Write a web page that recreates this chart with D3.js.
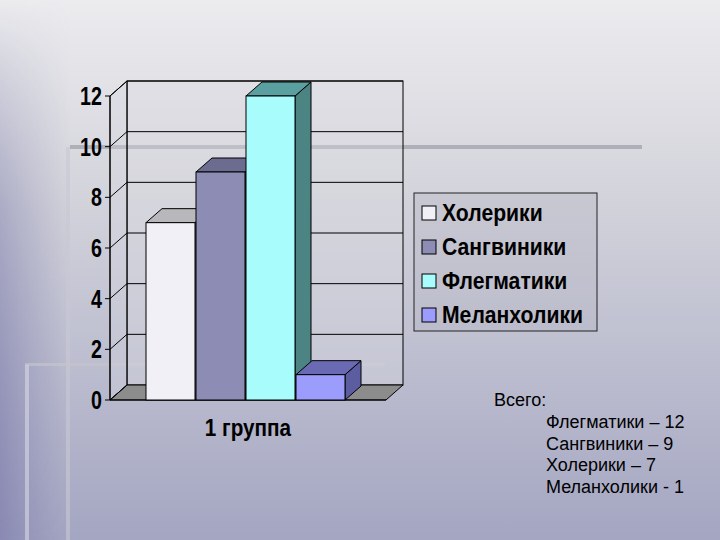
<!DOCTYPE html>
<html><head><meta charset="utf-8">
<script src="https://cdn.jsdelivr.net/npm/d3@7"></script>
<style>body{margin:0}svg{display:block}</style></head>
<body><svg id="c" width="720" height="540"></svg>
<script>
const categories = ["Холерики","Сангвиники","Флегматики","Меланхолики"];
const values = [7, 9, 12, 1];
const colors = ["#f0f0f6","#8c8cb4","#a8fcfc","#9c9cfc"];
const sideColors = ["#a8a8b0","#64648a","#4c8484","#5c5ca0"];
const topColors = ["#b8b8bc","#6c6c90","#5aa0a0","#6a6ab4"];
const ticks = [0,2,4,6,8,10,12];
const groupLabel = "1 группа";
const totals = ["Флегматики – 12","Сангвиники – 9","Холерики – 7","Меланхолики - 1"];

const svg = d3.select("#c");
const defs = svg.append("defs");
const g1 = defs.append("linearGradient").attr("id","bg").attr("x1",0).attr("y1",0).attr("x2",0).attr("y2",1);
g1.append("stop").attr("offset","0").attr("stop-color","#ececef");
g1.append("stop").attr("offset","0.35").attr("stop-color","#d4d4dc");
g1.append("stop").attr("offset","1").attr("stop-color","#a4a6c2");
const g2 = defs.append("linearGradient").attr("id","lg").attr("x1",0).attr("y1",0).attr("x2",1).attr("y2",0);
g2.append("stop").attr("offset","0").attr("stop-color","#8484b0").attr("stop-opacity",0.85);
g2.append("stop").attr("offset","1").attr("stop-color","#8c8cb4").attr("stop-opacity",0);
const g3 = defs.append("linearGradient").attr("id","lm").attr("x1",0).attr("y1",0).attr("x2",0).attr("y2",1);
g3.append("stop").attr("offset","0").attr("stop-color","#fff").attr("stop-opacity",0);
g3.append("stop").attr("offset","0.4").attr("stop-color","#fff").attr("stop-opacity",0.6);
g3.append("stop").attr("offset","1").attr("stop-color","#fff").attr("stop-opacity",1);
const mask = defs.append("mask").attr("id","mk");
mask.append("rect").attr("width",720).attr("height",540).attr("fill","url(#lm)");
svg.append("rect").attr("width",720).attr("height",540).attr("fill","url(#bg)");
svg.append("rect").attr("x",0).attr("y",0).attr("width",70).attr("height",540).attr("fill","url(#lg)").attr("mask","url(#mk)");
// decorative lines
svg.append("rect").attr("x",70).attr("y",145).attr("width",572).attr("height",4).attr("fill","#b0b0b8");
svg.append("rect").attr("x",66).attr("y",147).attr("width",4).attr("height",393).attr("fill","#c8c8d4").attr("opacity",0.6);
svg.append("rect").attr("x",25).attr("y",363).attr("width",360).attr("height",3).attr("fill","#c4c4cc").attr("opacity",0.7);
svg.append("rect").attr("x",25).attr("y",365).attr("width",4).attr("height",175).attr("fill","#d8d8e4").attr("opacity",0.6);

const y = d3.scaleLinear().domain([0,12]).range([400,96]);
const dx = 17, dy = -15;
const x0 = 110, x1 = 386;
const x = d3.scaleBand().domain(categories).range([146,346]).paddingInner(0);
const bf = "Liberation Sans Narrow, Arial Narrow, sans-serif";

svg.append("rect").attr("x",x0+dx).attr("y",y(12)+dy).attr("width",x1-x0).attr("height",y(0)-y(12))
  .attr("fill","#dcdce2").attr("fill-opacity",0.35).attr("stroke","#000").attr("stroke-width",1);
svg.append("path").attr("d",`M${x0},${y(0)}L${x0},${y(12)}L${x0+dx},${y(12)+dy}L${x0+dx},${y(0)+dy}Z`)
  .attr("fill","#d8d8e0").attr("fill-opacity",0.3).attr("stroke","#000");
svg.append("path").attr("d",`M${x0},${y(0)}L${x0+dx},${y(0)+dy}L${x1+dx},${y(0)+dy}L${x1},${y(0)}Z`)
  .attr("fill","#8c8c8c").attr("stroke","#000");
ticks.forEach(t=>{
  if(t>0) svg.append("line").attr("x1",x0+dx).attr("x2",x1+dx).attr("y1",y(t)+dy).attr("y2",y(t)+dy).attr("stroke","#000");
  svg.append("line").attr("x1",x0).attr("x2",x0+dx).attr("y1",y(t)).attr("y2",y(t)+dy).attr("stroke","#000");
  svg.append("line").attr("x1",x0-5).attr("x2",x0).attr("y1",y(t)).attr("y2",y(t)).attr("stroke","#000");
  svg.append("text").attr("transform",`translate(${x0-8},${y(t)+9}) scale(0.82,1.05)`).attr("text-anchor","end")
    .attr("font-family",bf).attr("font-weight","bold").attr("font-size",24).text(t);
});
svg.append("line").attr("x1",x0).attr("x2",x0).attr("y1",y(0)).attr("y2",y(12)).attr("stroke","#000");
svg.append("line").attr("x1",x0).attr("x2",x1).attr("y1",y(0)).attr("y2",y(0)).attr("stroke","#000");

const bdx = 16, bdy = -14;
categories.forEach((c,i)=>{
  const bx = x(c), bw = x.bandwidth()-1, by = y(values[i]), b0 = y(0);
  svg.append("path").attr("d",`M${bx+bw},${b0}L${bx+bw},${by}L${bx+bw+bdx},${by+bdy}L${bx+bw+bdx},${b0+bdy}Z`)
    .attr("fill",sideColors[i]).attr("stroke","#000");
  svg.append("path").attr("d",`M${bx},${by}L${bx+bdx},${by+bdy}L${bx+bw+bdx},${by+bdy}L${bx+bw},${by}Z`)
    .attr("fill",topColors[i]).attr("stroke","#000");
  svg.append("rect").attr("x",bx).attr("y",by).attr("width",bw).attr("height",b0-by)
    .attr("fill",colors[i]).attr("stroke","#000");
});
svg.append("text").attr("transform","translate(248,436) scale(0.9,1)").attr("text-anchor","middle")
  .attr("font-family",bf).attr("font-weight","bold").attr("font-size",23).text(groupLabel);

const lg = svg.append("g");
lg.append("rect").attr("x",414).attr("y",193).attr("width",183).attr("height",138)
  .attr("fill","#b4b4c4").attr("fill-opacity",0.35).attr("stroke","#222");
categories.forEach((c,i)=>{
  const ly = 213 + i*34;
  lg.append("rect").attr("x",422).attr("y",ly-7).attr("width",14).attr("height",14).attr("fill",colors[i]).attr("stroke","#000");
  lg.append("text").attr("transform",`translate(442,${ly+8}) scale(0.92,1.08)`).attr("font-family",bf)
    .attr("font-weight","bold").attr("font-size",23).text(c);
});

const tf = "Liberation Sans Narrow, Arial Narrow, sans-serif";
svg.append("text").attr("x",494).attr("y",406).attr("font-family",tf).attr("font-size",18).text("Всего:");
totals.forEach((t,i)=>svg.append("text").attr("x",546).attr("y",428+i*21.5).attr("font-family",tf).attr("font-size",18).text(t));
</script></body></html>
